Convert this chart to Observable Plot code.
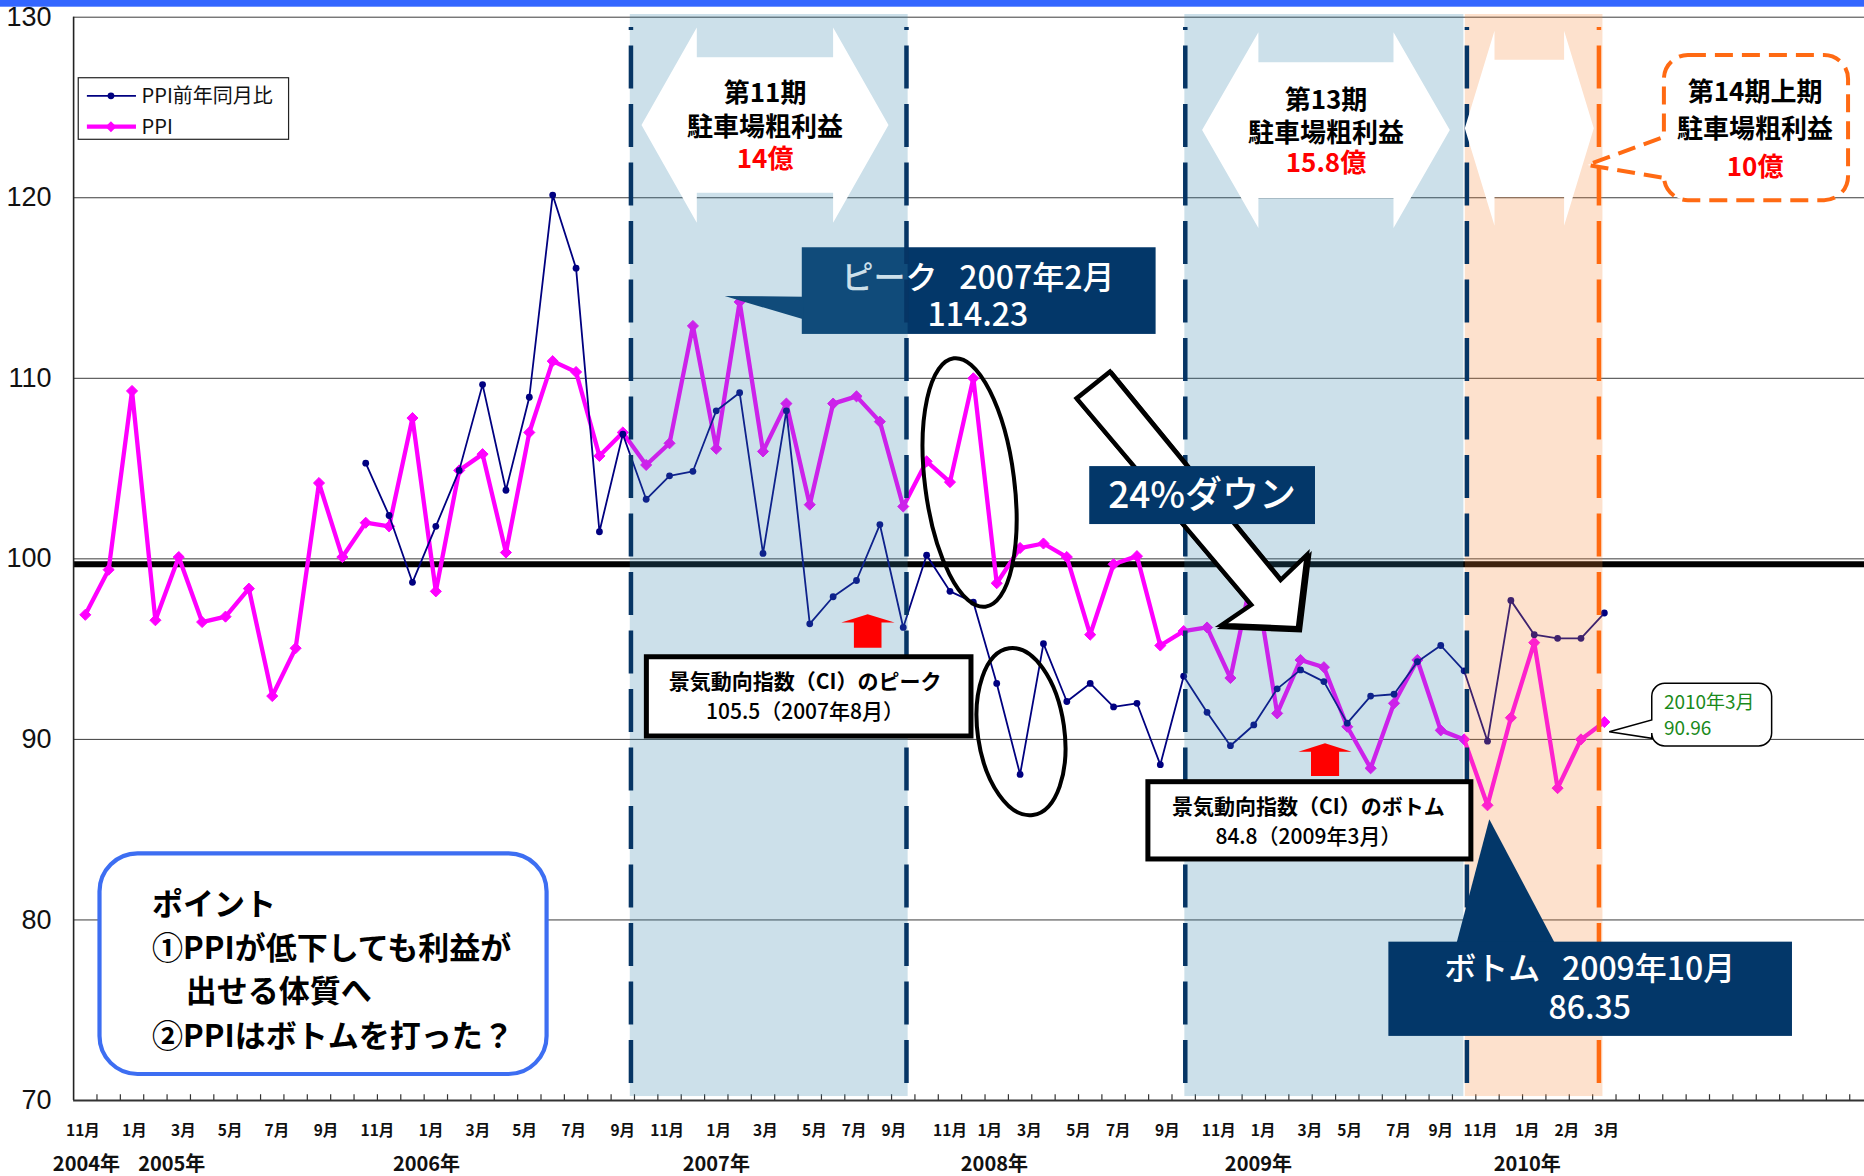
<!DOCTYPE html>
<html>
<head>
<meta charset="utf-8">
<script src="https://cdn.jsdelivr.net/npm/d3@7"></script>
<script src="https://cdn.jsdelivr.net/npm/@observablehq/plot@0.6"></script>
<style>
html, body { margin: 0; padding: 0; background: #fff; overflow: hidden; }
#chart { position: relative; width: 1864px; height: 1176px; }
</style>
</head>
<body>
<div id="chart"></div>
<script>
const FONT = '"Noto Sans CJK JP", "Noto Sans", sans-serif';
const NUMFONT = '"Liberation Sans", "DejaVu Sans", sans-serif';
const NAVY = "#033769";

// ---- categories (months) ----
const months = [
  "2004-10","2004-11","2004-12",
  "2005-01","2005-02","2005-03","2005-04","2005-05","2005-06","2005-07","2005-08","2005-09","2005-10","2005-11","2005-12",
  "2006-01","2006-02","2006-03","2006-04","2006-05","2006-06","2006-07","2006-08","2006-09","2006-10","2006-11","2006-12",
  "2007-01","2007-02","2007-03","2007-04","2007-05","2007-06","2007-07","2007-08","2007-09","2007-10","2007-11","2007-12",
  "2008-01","2008-02","2008-03","2008-04","2008-05","2008-06","2008-07","2008-08","2008-09","2008-10","2008-11","2008-12",
  "2009-01","2009-02","2009-03","2009-04","2009-05","2009-06","2009-07","2009-08","2009-09","2009-10","2009-11","2009-12",
  "2010-01","2010-02","2010-03"
];

// ---- series: PPI ----
const ppi = [
  96.9, 99.4, 109.3, 96.6, 100.1, 96.5, 96.8, 98.35, 92.4, 95.05,
  104.2, 100.1, 102.0, 101.8, 107.8, 98.2, 104.9, 105.8, 100.35, 107.0,
  110.95, 110.35, 105.7, 107.0, 105.2, 106.4, 112.9, 106.1, 114.23, 105.95,
  108.6, 103.0, 108.6, 109.0, 107.6, 102.9, 105.4, 104.25, 110.0, 98.65,
  100.6, 100.85, 100.1, 95.8, 99.7, 100.15, 95.2, 96.0, 96.2, 93.4,
  99.5, 91.44, 94.4, 94.0, 90.7, 88.4, 92.0, 94.4, 90.5, 90.0,
  86.35, 91.2, 95.36, 87.3, 90.0, 90.96
];

// ---- series: PPI前年同月比 ----
const ppiYoY = [
  null, null, null, null, null, null, null, null, null, null, null, null,
  105.3, 102.4, 98.7, 101.8, 104.9, 109.65, 103.8, 108.95, 120.15, 116.1,
  101.5, 106.9, 103.3, 104.6, 104.85, 108.2, 109.2, 100.3, 108.2, 96.4,
  97.9, 98.8, 101.9, 96.2, 100.2, 98.2, 97.6, 93.1, 88.06, 95.3,
  92.1, 93.1, 91.8, 92.0, 88.6, 93.5, 91.5, 89.65, 90.8, 92.8,
  93.85, 93.2, 90.9, 92.4, 92.5, 94.3, 95.2, 93.8, 89.9, 97.7,
  95.8, 95.6, 95.6, 97.0
];

const baseline = 99.7;
const yTicks = [70, 80, 90, 100, 110, 120, 130];
const gridValues = [80, 90, 100, 110, 120, 130];

// ---- tick labels (hand-placed under the axis, in month-index units) ----
const monthLabels = ["11月","1月","3月","5月","7月","9月","11月","1月","3月","5月","7月","9月",
  "11月","1月","3月","5月","7月","9月","11月","1月","3月","5月","7月","9月",
  "11月","1月","3月","5月","7月","9月","11月","1月","2月","3月"];
const monthLabelPos = [-0.1, 2.1, 4.2, 6.2, 8.2, 10.3, 12.5, 14.8, 16.8, 18.8, 20.9, 23.0,
  24.9, 27.1, 29.1, 31.2, 32.9, 34.6, 37.0, 38.7, 40.4, 42.5, 44.2, 46.3,
  48.5, 50.4, 52.4, 54.1, 56.2, 58.0, 59.7, 61.7, 63.4, 65.1];
const yearLabels = ["2004年","2005年","2006年","2007年","2008年","2009年","2010年"];
const yearLabelPos = [0.05, 3.7, 14.6, 27.0, 38.9, 50.2, 61.7];
const tickBounds = d3.range(0.5, 77, 1);

const rows = months.map((m, i) => ({ month: m, i, ppi: ppi[i], yoy: ppiYoY[i] }));
const yoyRows = rows.filter(d => d.yoy != null);

const plot = Plot.plot({
  width: 1864,
  height: 1176,
  x: { type: "linear", domain: [-0.5, 76.5], range: [73.1, 1872.6], axis: null },
  y: { type: "linear", domain: [70, 130], range: [1100, 16.7], axis: null },
  style: { background: "white", fontFamily: FONT, overflow: "hidden" },
  marks: [
    Plot.ruleY(gridValues, { x1: -0.5, x2: 76.5, stroke: "#3c3c3c", strokeWidth: 1 }),
    Plot.ruleY([baseline], { x1: -0.5, x2: 76.5, stroke: "#000", strokeWidth: 6 }),
    Plot.line(rows, { x: "i", y: "ppi", stroke: "#ff00ff", strokeWidth: 4.3 }),
    Plot.dot(rows, { x: "i", y: "ppi", symbol: "diamond2", r: 5, fill: "#ff00ff", stroke: "#ff00ff", strokeWidth: 1 }),
    Plot.line(yoyRows, { x: "i", y: "yoy", stroke: "#000080", strokeWidth: 1.8 }),
    Plot.dot(yoyRows, { x: "i", y: "yoy", r: 3.4, fill: "#000080" }),
    Plot.ruleX([-0.5], { y1: 70, y2: 130, stroke: "#222", strokeWidth: 1.6 }),
    Plot.ruleY([70], { x1: -0.5, x2: 76.5, stroke: "#333", strokeWidth: 2 }),
    Plot.ruleX(tickBounds, { y1: 70, y2: 70.32, stroke: "#333", strokeWidth: 1.2 }),
    Plot.text(yTicks, { x: -0.5, y: d => d, text: d => String(d), dx: -22, textAnchor: "end", fontSize: 27, fontFamily: NUMFONT, fill: "#111" }),
    Plot.text(monthLabels, { x: (d, i) => monthLabelPos[i], y: 70, dy: 31, text: d => d, fontSize: 15.5, fontWeight: "bold", fill: "#111" }),
    Plot.text(yearLabels, { x: (d, i) => yearLabelPos[i], y: 70, dy: 64, text: d => d, fontSize: 20, fontWeight: "bold", fill: "#111" })
  ]
});
document.getElementById("chart").appendChild(plot);

// ---- annotations, positioned in data units through the plot's scales ----
const sx = plot.scale("x"), sy = plot.scale("y");
const X = v => sx.apply(v), Y = v => sy.apply(v);
const root = d3.select(plot);
const A = root.append("g").attr("font-family", FONT);
const P = list => list.map(([a, b]) => `${X(a).toFixed(1)},${Y(b).toFixed(1)}`).join(" ");
function setAttrs(sel, attrs) { for (const k in attrs) sel.attr(k, attrs[k]); return sel; }
function txt(str, x, y, size, o = {}) {
  return A.append("text").attr("x", X(x)).attr("y", Y(y)).attr("dy", "0.36em")
    .attr("text-anchor", o.anchor || "middle").attr("font-size", size)
    .attr("font-weight", o.weight || 400).attr("fill", o.fill || "#000")
    .style("white-space", "pre").text(str);
}
// one text element holding several lines (each line: [string, x, y, options])
function block(lines, size, o = {}) {
  const t = A.append("text").attr("text-anchor", o.anchor || "middle").attr("font-size", size)
    .attr("font-weight", o.weight || 400).attr("fill", o.fill || "#000").style("white-space", "pre");
  lines.forEach(([str, x, y, lo = {}]) => {
    const s = t.append("tspan").attr("x", X(x)).attr("y", Y(y)).attr("dy", "0.36em").text(str);
    if (lo.fill) s.attr("fill", lo.fill);
    if (lo.weight) s.attr("font-weight", lo.weight);
  });
  return t;
}
function box(x0, v0, x1, v1, attrs) {
  return setAttrs(A.append("rect").attr("x", X(x0)).attr("y", Y(v0))
    .attr("width", X(x1) - X(x0)).attr("height", Y(v1) - Y(v0)), attrs);
}
function poly(list, attrs) { return setAttrs(A.append("polygon").attr("points", P(list)), attrs); }
function doubleArrow(x0, x1, h, yc, H, S) {
  return [[x0, yc], [x0 + h, yc + H], [x0 + h, yc + S], [x1 - h, yc + S], [x1 - h, yc + H],
          [x1, yc], [x1 - h, yc - H], [x1 - h, yc - S], [x0 + h, yc - S], [x0 + h, yc - H]];
}
function calloutPath(x0, v0, x1, v1, r, tTop, tBot, tipX, tipV) {
  const a = X(x0), b = X(x1), t = Y(v0), u = Y(v1);
  const tt = Y(tTop), tb = Y(tBot), px = X(tipX), py = Y(tipV);
  return `M${a + r},${t} H${b - r} A${r},${r} 0 0 1 ${b},${t + r} V${u - r} A${r},${r} 0 0 1 ${b - r},${u} ` +
         `H${a + r} A${r},${r} 0 0 1 ${a},${u - r} V${tb} L${px},${py} L${a},${tt} V${t + r} A${r},${r} 0 0 1 ${a + r},${t} Z`;
}

// peak callout (under the shading)
box(30.68, 117.23, 45.82, 112.43, { fill: NAVY });
poly([[30.75, 114.49], [27.38, 114.53], [30.75, 113.24]], { fill: NAVY });
block([["ピーク   2007年2月", 38.22, 115.58], ["114.23", 38.22, 113.48]], 32, { fill: "#fff", weight: 500 });

// shaded periods
box(23.32, 130.15, 35.21, 70.22, { fill: "rgb(55,133,172)", "fill-opacity": 0.255 });
box(47.05, 130.15, 58.99, 70.22, { fill: "rgb(55,133,172)", "fill-opacity": 0.255 });
box(59.05, 130.15, 64.94, 70.22, { fill: "rgb(248,136,56)", "fill-opacity": 0.25 });

// dashed period borders
[[23.37, "#063565"], [35.16, "#063565"], [47.09, "#063565"], [59.14, "#063565"], [64.79, "#ff6a10"]].forEach(([xv, c]) => {
  A.append("line").attr("x1", X(xv)).attr("x2", X(xv)).attr("y1", Y(129.43)).attr("y2", Y(70.55))
    .attr("stroke", c).attr("stroke-width", 4.5).attr("stroke-dasharray", "43 15.5").attr("stroke-dashoffset", 40);
});

// white double arrows
poly(doubleArrow(23.82, 34.39, 2.37, 124.0, 5.41, 3.75), { fill: "#fff" });
poly(doubleArrow(47.81, 58.41, 2.41, 123.72, 5.42, 3.76), { fill: "#fff" });
poly(doubleArrow(59.05, 64.57, 1.27, 123.82, 5.40, 3.80), { fill: "#fff" });
block([["第11期", 29.11, 125.77], ["駐車場粗利益", 29.11, 123.92], ["14億", 29.11, 122.15, { fill: "#ff0000" }]], 26, { weight: 700 });
block([["第13期", 53.11, 125.39], ["駐車場粗利益", 53.11, 123.59], ["15.8億", 53.11, 121.90, { fill: "#ff0000" }]], 26, { weight: 700 });

// 第14期上期 callout
A.append("path").attr("d", calloutPath(67.57, 127.88, 75.45, 119.84, 24, 123.34, 121.07, 64.30, 121.79))
  .attr("fill", "#fff").attr("stroke", "#ff6a13").attr("stroke-width", 4).attr("stroke-dasharray", "18 9");
block([["第14期上期", 71.47, 125.86], ["駐車場粗利益", 71.47, 123.81], ["10億", 71.47, 121.70, { fill: "#ff0000" }]], 26, { weight: 700 });

// big down arrow
const bigArrow = [[43.87, 110.34], [51.17, 98.80], [52.29, 100.19], [51.91, 96.13], [48.65, 96.31], [49.91, 97.42], [42.44, 108.86]];
poly(bigArrow, { fill: "#000", stroke: "#000", "stroke-width": 4.5, transform: "translate(2,2)" });
poly(bigArrow, { fill: "#fff", stroke: "#000", "stroke-width": 4.5, "stroke-linejoin": "miter" });

// 24%ダウン
box(42.98, 105.11, 52.64, 101.90, { fill: NAVY });
txt("24%ダウン", 47.81, 103.50, 37, { fill: "#fff", weight: 500 });

// CI boxes
box(24.03, 94.55, 37.92, 90.16, { fill: "#fff", stroke: "#000", "stroke-width": 5 });
block([["景気動向指数（CI）のピーク", 30.82, 93.18], ["105.5（2007年8月）", 30.82, 91.52, { weight: 500 }]], 21, { weight: 700 });
box(45.49, 87.63, 59.31, 83.35, { fill: "#fff", stroke: "#000", "stroke-width": 5 });
block([["景気動向指数（CI）のボトム", 52.36, 86.28], ["84.8（2009年3月）", 52.36, 84.62, { weight: 500 }]], 21, { weight: 700 });

// red up arrows
poly([[33.50, 96.90], [34.65, 96.44], [34.09, 96.44], [34.09, 95.05], [32.91, 95.05], [32.91, 96.44], [32.37, 96.44]], { fill: "#ff0000" });
poly([[53.07, 89.76], [54.21, 89.29], [53.67, 89.29], [53.67, 87.95], [52.47, 87.95], [52.47, 89.29], [51.93, 89.29]], { fill: "#ff0000" });

// ellipses
[[37.86, 104.20, 44.6, 125.2, -7.25], [40.06, 90.40, 43.3, 84.2, -8.1]].forEach(([cx, cv, rx, ry, rot]) => {
  const px = X(cx), py = Y(cv);
  A.append("ellipse").attr("cx", px).attr("cy", py).attr("rx", rx).attr("ry", ry)
    .attr("transform", `rotate(${rot} ${px} ${py})`).attr("fill", "none").attr("stroke", "#000").attr("stroke-width", 4);
});

// bottom callout
poly([[58.68, 78.6], [60.10, 85.55], [62.94, 78.6]], { fill: NAVY });
box(55.78, 78.77, 73.05, 73.55, { fill: NAVY });
block([["ボトム   2009年10月", 64.40, 77.28], ["86.35", 64.40, 75.12]], 32, { fill: "#fff", weight: 500 });

// 2010年3月 callout
A.append("path").attr("d", calloutPath(67.05, 93.08, 72.18, 89.61, 13, 91.05, 90.03, 65.23, 90.40))
  .attr("fill", "#fff").attr("stroke", "#000").attr("stroke-width", 1.5);
block([["2010年3月", 67.57, 92.06], ["90.96", 67.57, 90.59]], 19, { anchor: "start", fill: "#1a8a1a" });

// legend
box(-0.28, 126.62, 8.72, 123.21, { fill: "#fff", stroke: "#222", "stroke-width": 1.2 });
A.append("line").attr("x1", X(0.09)).attr("x2", X(2.19)).attr("y1", Y(125.62)).attr("y2", Y(125.62))
  .attr("stroke", "#000080").attr("stroke-width", 1.8);
A.append("circle").attr("cx", X(1.12)).attr("cy", Y(125.62)).attr("r", 3.4).attr("fill", "#000080");
txt("PPI前年同月比", 2.43, 125.62, 20, { anchor: "start", fill: "#111" });
A.append("line").attr("x1", X(0.09)).attr("x2", X(2.19)).attr("y1", Y(123.91)).attr("y2", Y(123.91))
  .attr("stroke", "#ff00ff").attr("stroke-width", 4.3);
{
  const cx = X(1.12), cy = Y(123.91), d = 5.5;
  A.append("path").attr("d", `M${cx},${cy - d} L${cx + d},${cy} L${cx},${cy + d} L${cx - d},${cy} Z`).attr("fill", "#ff00ff");
}
txt("PPI", 2.43, 123.91, 20, { anchor: "start", fill: "#111" });

// ポイント box
A.append("rect").attr("x", X(0.63)).attr("y", Y(83.66)).attr("width", X(19.76) - X(0.63)).attr("height", Y(71.44) - Y(83.66))
  .attr("rx", 38).attr("ry", 38).attr("fill", "#fff").attr("stroke", "#3d6ef2").attr("stroke-width", 4.2);
block([
  ["ポイント", 2.88, 80.88],
  ["①PPIが低下しても利益が", 2.88, 78.44],
  ["出せる体質へ", 4.32, 76.07],
  ["②PPIはボトムを打った？", 2.88, 73.57]
], 31, { anchor: "start", weight: 700 });

// top bar
root.append("rect").attr("x", 0).attr("y", 0).attr("width", 1864).attr("height", 6.7).attr("fill", "#3366ff");
</script>
</body>
</html>
